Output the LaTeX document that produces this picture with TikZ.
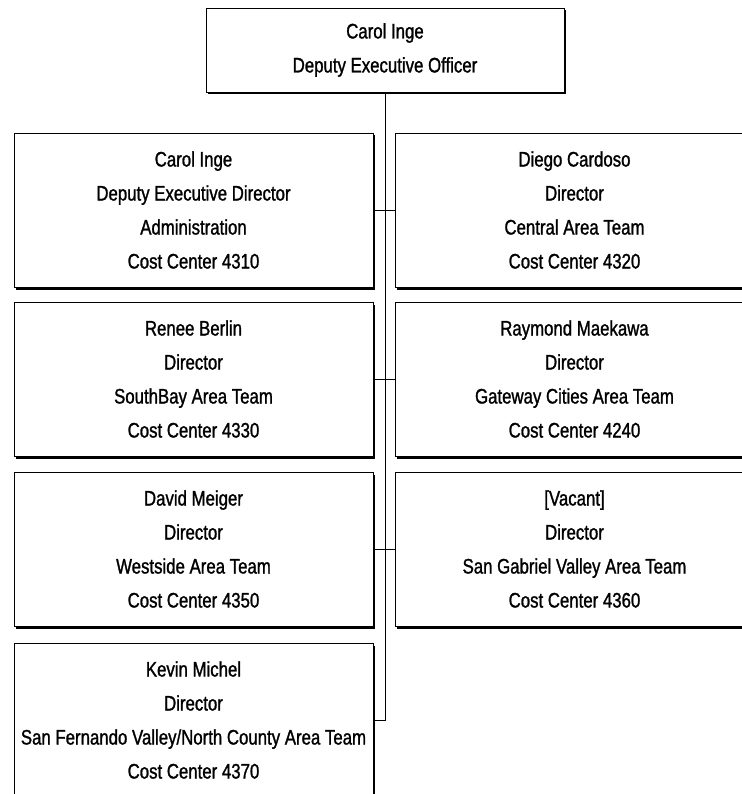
\documentclass[tikz,border=0pt]{standalone}
\usepackage{fontspec}
\setmainfont{Liberation Sans}[FakeStretch=0.8, FakeBold=1.2]
\usetikzlibrary{shadows}

\tikzset{
	unit/.style={draw, line width=0.9pt, fill=white, align=center, inner sep=0pt,
		minimum width=359pt, minimum height=154pt,
		font=\fontsize{21}{34}\selectfont,
		drop shadow={shadow xshift=2pt, shadow yshift=-2.5pt, fill=black, opacity=1}},
	head/.style={unit, minimum width=358pt, minimum height=84pt},
	link/.style={line width=0.9pt}
}

\begin{document}
\begin{tikzpicture}[x=1pt, y=-1pt]
		
		\useasboundingbox (0,0) rectangle (741,794);
		
		\node[head] (deo) at (385,50) {Carol Inge\\Deputy Executive Officer};
		
		\node[unit] (admin) at (193.5,210) {Carol Inge\\Deputy Executive Director\\Administration\\Cost Center 4310};
		\node[unit] (central) at (574.5,210) {Diego Cardoso\\Director\\Central Area Team\\Cost Center 4320};
		
		\node[unit] (southbay) at (193.5,379) {Renee Berlin\\Director\\SouthBay Area Team\\Cost Center 4330};
		\node[unit] (gateway) at (574.5,379) {Raymond Maekawa\\Director\\Gateway Cities Area Team\\Cost Center 4240};
		
		\node[unit] (westside) at (193.5,549) {David Meiger\\Director\\Westside Area Team\\Cost Center 4350};
		\node[unit] (sgv) at (574.5,549) {[Vacant]\\Director\\San Gabriel Valley Area Team\\Cost Center 4360};
		
		\node[unit] (sfv) at (193.5,720) {Kevin Michel\\Director\\San Fernando Valley/North County Area Team\\Cost Center 4370};
		
		
		\draw[link] (deo.south) |- (sfv.east);
		\draw[link] (admin.east) -- (central.west);
		\draw[link] (southbay.east) -- (gateway.west);
		\draw[link] (westside.east) -- (sgv.west);
		\end{tikzpicture}
\end{document}
